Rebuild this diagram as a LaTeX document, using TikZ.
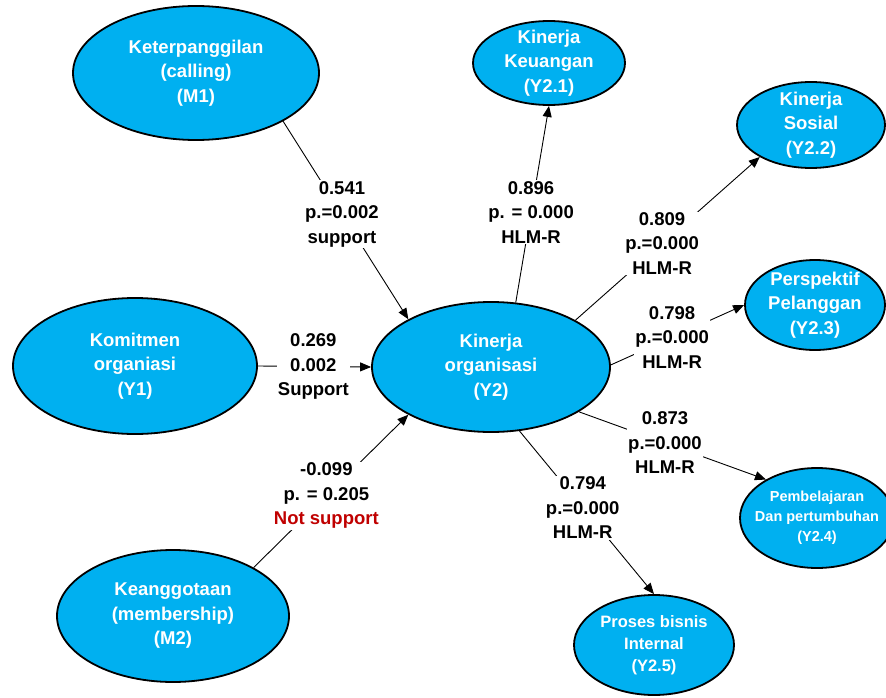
\documentclass[tikz,border=0pt]{standalone}
\usepackage{fontspec}
\setmainfont{Liberation Sans}
\usetikzlibrary{shapes.geometric,arrows.meta}
\definecolor{skyb}{HTML}{00B0F0}
\definecolor{nsred}{HTML}{C00000}
\begin{document}
\begin{tikzpicture}[x=1pt,y=-1pt,
  construct/.style={ellipse, draw=black, line width=1.8pt, fill=skyb, inner sep=0pt},
  ctext/.style={text=white, align=center, inner sep=0pt,
    font=\bfseries\fontsize{18.5}{24.5}\selectfont},
  ctextm/.style={ctext, font=\bfseries\fontsize{16.5}{22}\selectfont},
  ctexts/.style={ctext, font=\bfseries\fontsize{14.5}{20}\selectfont},
  coef/.style={fill=white, inner sep=1pt, align=center, text=black,
    font=\bfseries\fontsize{18.5}{24.5}\selectfont},
  link/.style={draw=black, line width=0.9pt, -{Triangle[length=11pt,width=9pt]}}
]
\useasboundingbox (0,0) rectangle (886,698);

% constructs
\node[construct, minimum width=246pt, minimum height=134pt,
  label={[ctext]center:{Keterpanggilan\\(calling)\\(M1)}}] (m1) at (196,73) {};
\node[construct, minimum width=244pt, minimum height=136pt,
  label={[ctext]center:{Komitmen\\organiasi\\(Y1)}}] (y1) at (135,366) {};
\node[construct, minimum width=232pt, minimum height=132pt,
  label={[ctext]center:{Keanggotaan\\(membership)\\(M2)}}] (m2) at (173,616) {};
\node[construct, minimum width=238pt, minimum height=130pt,
  label={[ctext]center:{Kinerja\\organisasi\\(Y2)}}] (y2) at (491,367) {};
\node[construct, minimum width=152pt, minimum height=84pt,
  label={[ctext]center:{Kinerja\\Keuangan\\(Y2.1)}}] (y21) at (549,63) {};
\node[construct, minimum width=148pt, minimum height=86pt,
  label={[ctext]center:{Kinerja\\Sosial\\(Y2.2)}}] (y22) at (811,125) {};
\node[construct, minimum width=140pt, minimum height=90pt,
  label={[ctext]center:{Perspektif\\Pelanggan\\(Y2.3)}}] (y23) at (815,305) {};
\node[construct, minimum width=154pt, minimum height=100pt,
  label={[ctexts]center:{Pembelajaran\\Dan pertumbuhan\\(Y2.4)}}] (y24) at (817,518) {};
\node[construct, minimum width=160pt, minimum height=100pt,
  label={[ctextm]center:{Proses bisnis\\Internal\\(Y2.5)}}] (y25) at (654,645) {};

% paths into Y2
\draw[link] (m1.-29) -- node[coef, pos=0.47] {0.541\\p.=0.002\\support} (y2.150);
\draw[link] (y1.east) -- node[coef, pos=0.49] {0.269\\0.002\\Support} (y2.west);
\draw[link] (m2.31) -- node[coef, pos=0.47] {-0.099\\p. = 0.205\\\textcolor{nsred}{Not support}} (y2.210.7);

% paths out of Y2
\draw[link] (y2.69) -- node[coef, pos=0.46] {0.896\\p. = 0.000\\HLM-R} (y21.-90);
\draw[link] (y2.29.8) -- node[coef, pos=0.47] {0.809\\p.=0.000\\HLM-R} (y22.212);
\draw[link] (y2.1) -- node[coef, pos=0.46] {0.798\\p.=0.000\\HLM-R} (y23.180);
\draw[link] (y2.-27.9) -- node[coef, pos=0.46] {0.873\\p.=0.000\\HLM-R} (y24.143.5);
\draw[link] (y2.-66) -- node[coef, pos=0.47] {0.794\\p.=0.000\\HLM-R} (y25.90);
\end{tikzpicture}
\end{document}
